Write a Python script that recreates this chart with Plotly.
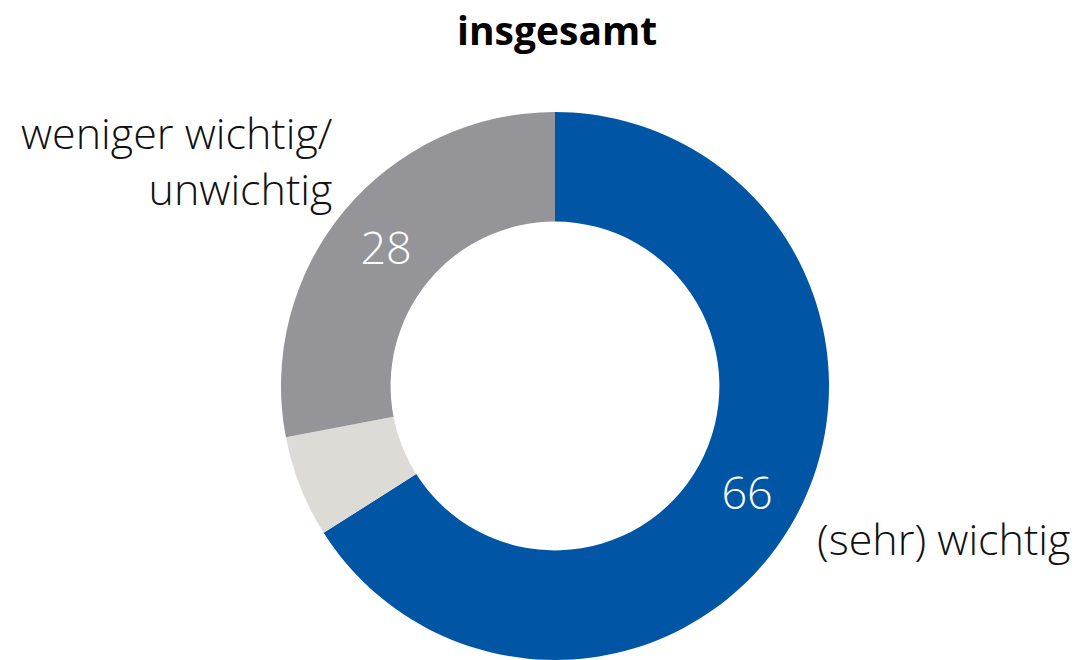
import plotly.graph_objects as go

categories = ["(sehr) wichtig", "keine Angabe", "weniger wichtig/ unwichtig"]
values = [66, 6, 28]
value_labels = ["66", "", "28"]
colors = ["#0055A4", "#DCDBD6", "#949499"]
title_text = "insgesamt"
label_lines_left = ["weniger wichtig/", "unwichtig"]
label_right = "(sehr) wichtig"

W, H = 1079, 660
cx, cy, r = 555, 386, 274

fig = go.Figure(go.Pie(
    labels=categories,
    values=values,
    text=value_labels,
    texttemplate="%{text}",
    textinfo="text",
    textposition="inside",
    insidetextorientation="horizontal",
    textfont=dict(family="Open Sans", size=45, color="white", weight=300),
    marker=dict(colors=colors, line=dict(width=0)),
    hole=0.6,
    sort=False,
    direction="clockwise",
    rotation=0,
    showlegend=False,
    hoverinfo="skip",
    domain=dict(x=[(cx - r) / W, (cx + r) / W], y=[1 - (cy + r) / H, 1 - (cy - r) / H]),
))

label_font = dict(family="Open Sans", size=43, color="#111111", weight=300)

fig.update_layout(
    width=W, height=H,
    margin=dict(l=0, r=0, t=0, b=0),
    paper_bgcolor="white",
    plot_bgcolor="white",
    annotations=[
        dict(text="<b>" + title_text + "</b>", x=557 / W, y=1 - 30 / H, xref="paper", yref="paper",
             showarrow=False, xanchor="center", yanchor="middle",
             font=dict(family="Open Sans", size=39, color="black")),
        dict(text="<br>".join(label_lines_left), x=335 / W, y=1 - 160 / H, xref="paper", yref="paper",
             showarrow=False, xanchor="right", yanchor="middle", align="right", font=label_font),
        dict(text=label_right, x=1072 / W, y=1 - 538 / H, xref="paper", yref="paper",
             showarrow=False, xanchor="right", yanchor="middle", align="right", font=label_font),
    ],
)

fig.write_html("out.html", config={"displayModeBar": False},
               post_script="document.body.style.margin='0';document.body.style.overflow='hidden';")
